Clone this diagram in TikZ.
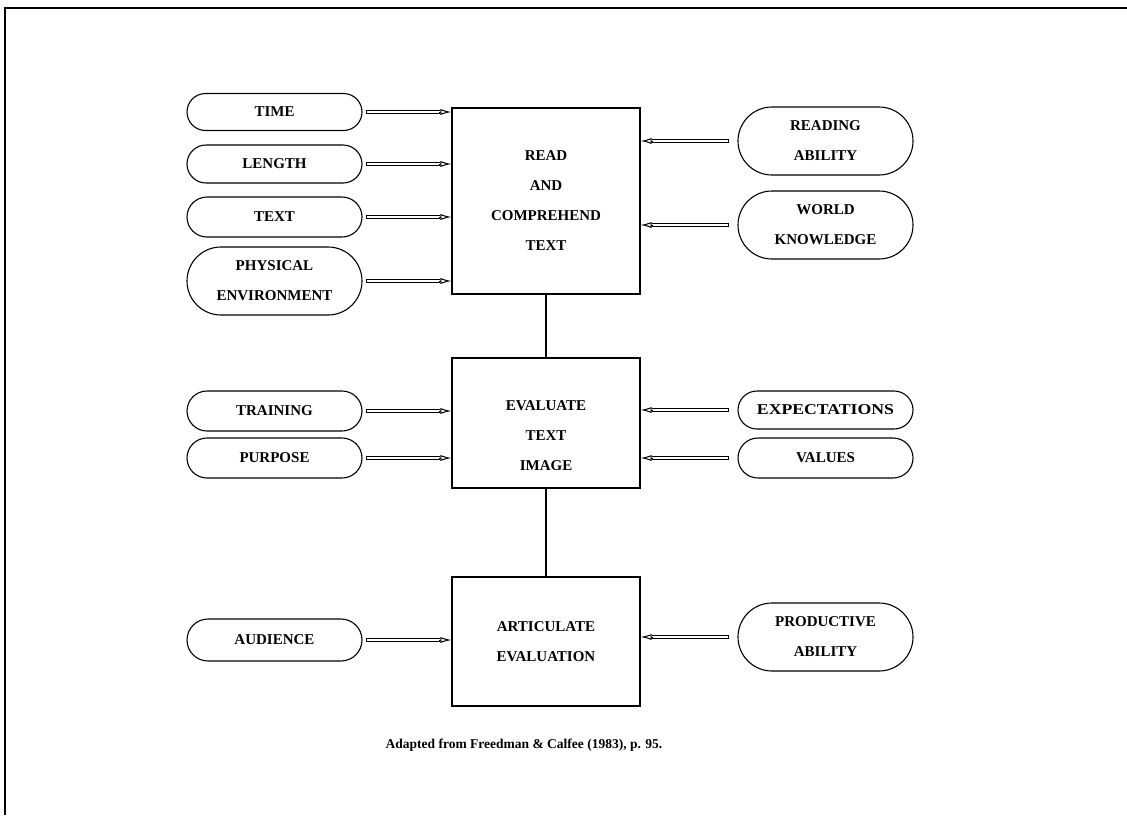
\documentclass[tikz,border=0pt]{standalone}
\usepackage{fontspec}
\setmainfont{Liberation Serif}
\usetikzlibrary{arrows.meta,shapes.misc,calc}
\begin{document}
\begin{tikzpicture}[x=1pt,y=-1pt,
  every node/.style={font=\fontsize{15}{30}\selectfont\bfseries, align=center, inner sep=0pt},
  oval/.style={draw, rounded rectangle, line width=1.1pt, minimum width=175pt},
  stepbox/.style={draw, rectangle, line width=1.1pt, minimum width=188pt},
  shaftout/.style={line width=3.6pt, draw=black},
  shaftin/.style={line width=1.4pt, draw=white},
  head/.style={line width=1pt, -{Latex[open,length=11pt,width=6pt]}},
  link/.style={line width=1.1pt}]
\useasboundingbox (0,0) rectangle (1127,815);
\draw[line width=2pt] (5,815) -- (5,8) -- (1127,8);
% boxes
\node[stepbox, minimum height=186pt] (read) at (546,201) {READ\\AND\\COMPREHEND\\TEXT};
\node[stepbox, minimum height=130pt] (eval) at (546,423) {};
\node (evaltxt) at (546,436) {EVALUATE\\TEXT\\IMAGE};
\node[stepbox, minimum height=129pt] (artic) at (546,641.5) {ARTICULATE\\EVALUATION};
\draw[link] (read) -- (eval);
\draw[link] (eval) -- (artic);
% left ovals
\node[oval, minimum height=37pt] (time) at (274.5,112) {TIME};
\node[oval, minimum height=38pt] (length) at (274.5,164) {LENGTH};
\node[oval, minimum height=40pt] (text) at (274.5,217) {TEXT};
\node[oval, minimum height=68pt] (phys) at (274.5,281) {PHYSICAL\\ENVIRONMENT};
\node[oval, minimum height=40pt] (training) at (274.5,411) {TRAINING};
\node[oval, minimum height=40pt] (purpose) at (274.5,458) {PURPOSE};
\node[oval, minimum height=42pt] (audience) at (274.5,640) {AUDIENCE};
% right ovals
\node[oval, minimum height=68pt] (reading) at (825.5,141) {READING\\ABILITY};
\node[oval, minimum height=68pt] (world) at (825.5,225) {WORLD\\KNOWLEDGE};
\node[oval, minimum height=38pt, minimum width=175pt] (expect) at (825.5,410) {\scalebox{1.18}[1]{EXPECTATIONS}};
\node[oval, minimum height=40pt] (values) at (825.5,458) {VALUES};
\node[oval, minimum height=68pt] (productive) at (825.5,637) {PRODUCTIVE\\ABILITY};
% arrows (double shaft, open head)
\foreach \s/\t in {time/read,length/read,text/read,phys/read,training/eval,purpose/eval,audience/artic}{
  \draw[shaftout] ($(\s.east)+(3,0)$) -- ($(\s.east -| \t.west)+(-11,0)$);
  \draw[shaftin] ($(\s.east)+(4,0)$) -- ($(\s.east -| \t.west)+(-10,0)$);
  \draw[head] ($(\s.east -| \t.west)+(-12,0)$) -- (\s.east -| \t.west);
}
\foreach \s/\t in {reading/read,world/read,expect/eval,values/eval,productive/artic}{
  \draw[shaftout] ($(\s.west)+(-8,0)$) -- ($(\s.west -| \t.east)+(11,0)$);
  \draw[shaftin] ($(\s.west)+(-9,0)$) -- ($(\s.west -| \t.east)+(10,0)$);
  \draw[head] ($(\s.west -| \t.east)+(12,0)$) -- (\s.west -| \t.east);
}
% caption
\node[font=\fontsize{13.5}{16}\selectfont\bfseries] (cap) at (524,745) {Adapted from Freedman \& Calfee (1983), p. 95.};
\end{tikzpicture}
\end{document}
